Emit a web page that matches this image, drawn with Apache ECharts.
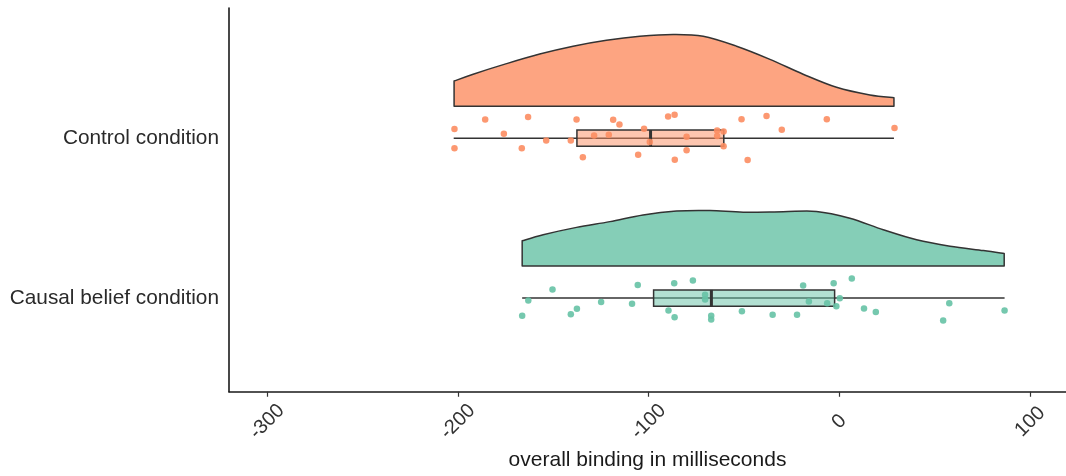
<!DOCTYPE html>
<html><head><meta charset="utf-8">
<script src="https://cdn.jsdelivr.net/npm/echarts@6/dist/echarts.min.js"></script>
<style>html,body{margin:0;padding:0;background:#fff}#c{width:1066px;height:476px}</style>
</head><body><div id="c"></div><script>
// categories: position 1 = Causal belief, position 2 = Control
const categories = ['Causal belief condition', 'Control condition'];
const xTicks = [-300, -200, -100, 0, 100];

const controlValues = [-201.8,-185.7,-163.2,-175.9,-201.8,-166.5,-153.7,-140.8,-137.8,-134.5,-128.6,-120.9,-118.6,-115.3,-105.5,-102.4,-99.4,-89.8,-86.4,-86.3,-80.1,-80.1,-64.1,-64.1,-60.7,-60.7,-51.3,-48.1,-38.2,-30.2,-6.6,28.9];
const controlJitter = [0.057,0.116,0.133,0.028,-0.063,-0.063,-0.014,-0.014,0.116,-0.119,0.017,0.022,0.115,0.085,-0.104,0.059,-0.024,0.135,0.147,-0.135,0.009,-0.076,0.048,0.014,0.042,-0.051,0.119,-0.137,0.139,0.053,0.119,0.063];

const causalValues = [-166.3,-163.1,-150.4,-140.8,-137.6,-124.9,-108.7,-105.7,-89.6,-86.6,-86.4,-76.8,-70.4,-70.4,-67.2,-67.2,-51.1,-35.0,-22.2,-19.0,-16.0,-6.4,-3.0,-1.6,0.2,6.5,12.9,19.1,54.4,57.6,86.6];
const causalJitter = [-0.111,-0.015,0.054,-0.101,-0.067,-0.024,-0.036,0.081,-0.078,0.092,-0.120,0.110,0.020,-0.009,-0.110,-0.134,-0.082,-0.105,-0.105,0.079,-0.022,-0.032,0.093,-0.051,-0.002,0.123,-0.066,-0.087,-0.141,-0.032,-0.078];

// box stats: [min, q1, median, q3, max]
const controlBox = [-202.2, -137.6, -99.0, -60.6, 28.6];
const causalBox = [-166.3, -97.4, -67.1, -2.5, 86.6];

// half-violin outlines (x value, density height in y units)
const controlDensityX = [-202.0,-192.0,-174.5,-157.1,-139.6,-122.1,-104.6,-87.2,-71.4,-53.9,-36.4,-19.0,-1.5,16.0,28.6];
const controlDensity = [0.157,0.200,0.266,0.326,0.375,0.412,0.437,0.448,0.437,0.375,0.293,0.200,0.118,0.070,0.053];
const causalDensityX = [-166.3,-155.3,-137.8,-120.3,-102.9,-85.4,-67.9,-50.4,-29.5,-12.0,5.5,23.0,40.5,58.0,75.5,86.4];
const causalDensity = [0.158,0.196,0.242,0.278,0.320,0.344,0.347,0.337,0.340,0.342,0.299,0.227,0.164,0.124,0.097,0.078];

const ORANGE = '#FC8D62', GREEN = '#66C2A5';
const FONT = 'Liberation Sans, Arial, sans-serif';

function violin(pos, xs, hs, fill) {
  return {
    type: 'custom', data: [0], silent: true, z: 1,
    renderItem: (params, api) => {
      const base = pos + 0.2;
      const top = xs.map((x, i) => api.coord([x, base + hs[i]]));
      const b0 = api.coord([xs[0], base]);
      const b1 = api.coord([xs[xs.length - 1], base]);
      let d = `M${b0[0]},${b0[1]} L${top[0][0]},${top[0][1]}`;
      for (let i = 0; i < top.length - 1; i++) {
        const p0 = top[Math.max(i - 1, 0)], p1 = top[i], p2 = top[i + 1], p3 = top[Math.min(i + 2, top.length - 1)];
        const c1 = [p1[0] + (p2[0] - p0[0]) / 6, p1[1] + (p2[1] - p0[1]) / 6];
        const c2 = [p2[0] - (p3[0] - p1[0]) / 6, p2[1] - (p3[1] - p1[1]) / 6];
        d += ` C${c1[0]},${c1[1]} ${c2[0]},${c2[1]} ${p2[0]},${p2[1]}`;
      }
      d += ` L${b1[0]},${b1[1]} Z`;
      return { type: 'path', shape: { pathData: d }, style: { fill: fill, stroke: '#333', lineWidth: 1.5, lineJoin: 'round' } };
    }
  };
}

function box(pos, s, fill) {
  return {
    type: 'custom', data: [0], silent: true, z: 2,
    renderItem: (params, api) => {
      const hw = 0.051;
      const a = api.coord([s[0], pos]), e = api.coord([s[4], pos]);
      const q1t = api.coord([s[1], pos + hw]), q3b = api.coord([s[3], pos - hw]);
      const mt = api.coord([s[2], pos + hw]), mb = api.coord([s[2], pos - hw]);
      return { type: 'group', children: [
        { type: 'line', shape: { x1: a[0], y1: a[1], x2: e[0], y2: e[1] }, style: { stroke: '#333', lineWidth: 1.5 } },
        { type: 'rect', shape: { x: q1t[0], y: q1t[1], width: q3b[0] - q1t[0], height: q3b[1] - q1t[1] }, style: { fill: fill, stroke: '#333', lineWidth: 1.5 } },
        { type: 'line', shape: { x1: mt[0], y1: mt[1], x2: mb[0], y2: mb[1] }, style: { stroke: '#333', lineWidth: 3 } }
      ]};
    }
  };
}

function points(pos, vals, jit, color) {
  return {
    type: 'scatter', z: 3, symbolSize: 6.5, silent: true,
    itemStyle: { color: color, opacity: 0.9 },
    data: vals.map((v, i) => [v, pos + jit[i]])
  };
}

const chart = echarts.init(document.getElementById('c'), null, { renderer: 'canvas' });
chart.setOption({
  animation: false,
  backgroundColor: '#fff',
  grid: { left: 229, right: 0, top: 8, bottom: 80.3 },
  xAxis: {
    type: 'value', min: -320, max: 118.8,
    splitLine: { show: false },
    axisLine: { show: true, onZero: false, lineStyle: { color: '#1a1a1a', width: 1.6 } },
    axisTick: { show: true, customValues: xTicks, length: 5, lineStyle: { color: '#333', width: 1.2 } },
    axisLabel: { customValues: xTicks, rotate: 45, align: 'center', verticalAlign: 'middle', margin: 30,
      fontSize: 20, color: '#333', fontFamily: FONT },
    name: 'overall binding in milliseconds', nameLocation: 'middle', nameGap: 56,
    nameTextStyle: { fontSize: 21, color: '#1a1a1a', fontFamily: FONT }
  },
  yAxis: {
    type: 'value', min: 0.414, max: 2.814,
    splitLine: { show: false },
    axisLine: { show: true, onZero: false, lineStyle: { color: '#1a1a1a', width: 1.6 } },
    axisTick: { show: false },
    axisLabel: { customValues: [1, 2], formatter: v => categories[Math.round(v) - 1], margin: 10,
      fontSize: 20.8, color: '#2a2a2a', fontFamily: FONT }
  },
  series: [
    violin(2, controlDensityX, controlDensity, 'rgba(252,141,98,0.8)'),
    violin(1, causalDensityX, causalDensity, 'rgba(102,194,165,0.8)'),
    box(2, controlBox, 'rgba(252,141,98,0.5)'),
    box(1, causalBox, 'rgba(102,194,165,0.5)'),
    points(2, controlValues, controlJitter, ORANGE),
    points(1, causalValues, causalJitter, GREEN)
  ]
});
</script></body></html>
